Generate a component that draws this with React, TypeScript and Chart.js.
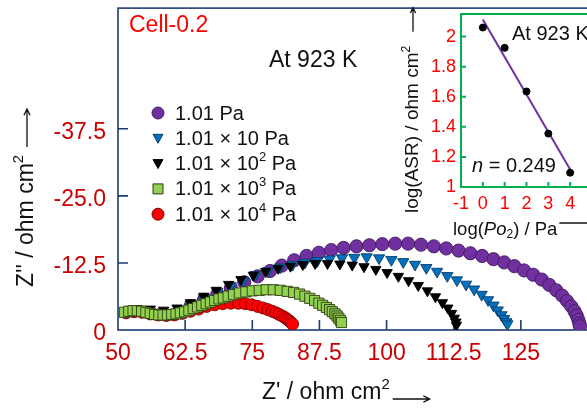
import React, { useEffect, useRef } from "react";
import { Chart, registerables } from "chart.js";
Chart.register(...registerables);

const FONT = '"Liberation Sans", Arial, Helvetica, sans-serif';
const NAVY = "#1f3b73";
const TICK_RED = "#cc0000";

// ---- main Nyquist data (Z' / ohm cm2, -Z'' / ohm cm2) ----
const seriesNames = ["1.01 Pa", "1.01 × 10 Pa", "1.01 × 10^2 Pa", "1.01 × 10^3 Pa", "1.01 × 10^4 Pa"];

const zrPurple = [63.5, 66, 68.5, 71, 73.5, 76, 78.3, 80.5, 82.8, 85.1, 87.4, 89.7, 92, 94.4, 96.8, 99.2, 101.6, 104, 106.4, 108.8, 111.1, 113.4, 115.6, 117.8, 119.9, 121.9, 123.8, 125.6, 127.3, 128.9, 130.3, 131.6, 132.7, 133.6, 134.4, 135.0, 135.4, 135.7, 135.9, 136.0];
const ziPurple = [4.4, 5.6, 6.7, 7.8, 8.9, 10.0, 11.0, 12.0, 13.0, 13.8, 14.4, 14.9, 15.3, 15.6, 15.8, 16.0, 16.1, 16.1, 15.9, 15.6, 15.2, 14.8, 14.3, 13.8, 13.2, 12.6, 11.9, 11.1, 10.3, 9.4, 8.4, 7.4, 6.4, 5.4, 4.4, 3.5, 2.7, 1.9, 1.2, 0.7];

const zrBlue = [63.5, 66, 68.5, 71, 73.3, 75.6, 77.9, 80.2, 82.5, 84.8, 87.1, 89.4, 91.7, 94, 96.3, 98.6, 100.9, 103.1, 105.3, 107.4, 109.4, 111.3, 113.1, 114.8, 116.3, 117.7, 118.9, 119.9, 120.7, 121.4, 121.9, 122.3, 122.5];
const ziBlue = [4.8, 6.0, 7.1, 8.2, 9.2, 10.3, 11.0, 11.7, 12.2, 12.6, 12.9, 13.2, 13.4, 13.5, 13.6, 13.4, 13.1, 12.7, 12.2, 11.6, 10.9, 10.1, 9.3, 8.5, 7.6, 6.6, 5.6, 4.6, 3.7, 2.8, 2.1, 1.5, 1.1];

const zrBlack = [51.5, 53.5, 56, 58.5, 61, 63.5, 66, 68.3, 70.6, 72.9, 75.2, 77.5, 79.8, 82.1, 84.4, 86.7, 89, 91.3, 93.6, 95.8, 98, 100.1, 102.2, 104.1, 105.9, 107.6, 109.1, 110.4, 111.4, 112.1, 112.6, 112.9, 113.0];
const ziBlack = [3.4, 4.0, 3.9, 3.7, 4.1, 5.1, 6.3, 7.4, 8.5, 9.4, 10.2, 10.9, 11.5, 11.9, 12.2, 12.4, 12.4, 12.3, 12.1, 11.8, 11.3, 10.7, 10.0, 9.2, 8.3, 7.3, 6.2, 5.1, 4.1, 3.1, 2.2, 1.5, 0.9];

const zrGreen = [51.2, 52.0, 52.8, 53.6, 54.4, 55.2, 56.0, 56.8, 57.6, 58.4, 59.2, 60.0, 60.8, 61.6, 62.4, 63.2, 64.0, 64.8, 65.6, 66.4, 67.2, 68.0, 68.8, 69.6, 70.5, 71.5, 72.6, 73.8, 75.0, 76.3, 77.6, 78.9, 80.2, 81.5, 82.7, 83.8, 84.8, 85.7, 86.6, 87.4, 88.1, 88.8, 89.4, 89.9, 90.4, 90.8, 91.1, 91.4, 91.6];
const ziGreen = [3.3, 3.5, 3.6, 3.6, 3.5, 3.3, 3.1, 2.9, 2.8, 2.8, 2.8, 2.9, 3.0, 3.2, 3.4, 3.7, 4.0, 4.3, 4.6, 4.9, 5.2, 5.5, 5.8, 6.0, 6.3, 6.6, 6.9, 7.1, 7.3, 7.4, 7.5, 7.5, 7.4, 7.2, 7.0, 6.7, 6.3, 5.9, 5.5, 5.0, 4.6, 4.2, 3.8, 3.4, 3.0, 2.6, 2.2, 1.8, 1.4];

const zrRed = [51.5, 53, 54.5, 56, 57.5, 59, 60.5, 62, 63.5, 65, 66.5, 68, 69.5, 71, 72.4, 73.7, 74.9, 76, 77, 77.9, 78.7, 79.4, 80, 80.6, 81.1, 81.5, 81.9, 82.2, 82.5];
const ziRed = [3.2, 3.4, 3.3, 3.0, 2.8, 2.7, 2.8, 3.1, 3.5, 3.9, 4.4, 4.7, 4.9, 5.0, 5.0, 4.9, 4.7, 4.4, 4.1, 3.8, 3.5, 3.2, 2.9, 2.6, 2.3, 2.0, 1.7, 1.4, 1.1];

const xTickValues = [50, 62.5, 75, 87.5, 100, 112.5, 125];
const xTickLabels = ["50", "62.5", "75", "87.5", "100", "112.5", "125"];
const yTickValues = [0, 12.5, 25, 37.5];
const yTickLabels = ["0", "-12.5", "-25.0", "-37.5"];

// ---- inset data ----
const logPo2 = [0, 1, 2, 3, 4];
const logAsr = [2.06, 1.925, 1.635, 1.355, 1.095];
const fitX = [0, 4];
const fitY = [2.113, 1.117];
const insetXTickValues = [-1, 0, 1, 2, 3, 4];
const insetXTickLabels = ["-1", "0", "1", "2", "3", "4"];
const insetYTickValues = [1, 1.2, 1.4, 1.6, 1.8, 2];
const insetYTickLabels = ["1", "1.2", "1.4", "1.6", "1.8", "2"];

type Seg = { t: string; italic?: boolean; pos?: "sup" | "sub" };

function drawRich(ctx: CanvasRenderingContext2D, segs: Seg[], x: number, y: number, size: number, color: string) {
  ctx.fillStyle = color;
  ctx.textAlign = "left";
  ctx.textBaseline = "middle";
  let cx = x;
  for (const s of segs) {
    const fs = s.pos ? size * 0.65 : size;
    ctx.font = `${s.italic ? "italic " : ""}${fs}px ${FONT}`;
    const dy = s.pos === "sup" ? -size * 0.36 : s.pos === "sub" ? size * 0.25 : 0;
    ctx.fillText(s.t, cx, y + dy);
    cx += ctx.measureText(s.t).width;
  }
  return cx;
}

function arrow(ctx: CanvasRenderingContext2D, x1: number, y1: number, x2: number, y2: number, color: string, head = 6) {
  ctx.strokeStyle = color;
  ctx.lineWidth = 1.3;
  ctx.beginPath();
  ctx.moveTo(x1, y1);
  ctx.lineTo(x2, y2);
  const a = Math.atan2(y2 - y1, x2 - x1);
  ctx.moveTo(x2 - head * Math.cos(a - 0.45), y2 - head * Math.sin(a - 0.45));
  ctx.lineTo(x2, y2);
  ctx.lineTo(x2 - head * Math.cos(a + 0.45), y2 - head * Math.sin(a + 0.45));
  ctx.stroke();
}

const styles = [
  { bg: "#7030A0", bd: "#3f1a5e", style: "circle", r: 6.6, rot: 0, order: 4 },
  { bg: "#0070C0", bd: "#0b3c66", style: "triangle", r: 6.5, rot: 180, order: 3 },
  { bg: "#000000", bd: "#000000", style: "triangle", r: 6.0, rot: 180, order: 2 },
  { bg: "#92D050", bd: "#2d3b12", style: "rect", r: 7.2, rot: 0, order: 0 },
  { bg: "#FF0000", bd: "#7a0000", style: "circle", r: 6.0, rot: 0, order: 1 },
];

function drawMarker(ctx: CanvasRenderingContext2D, i: number, x: number, y: number) {
  const s = styles[i];
  ctx.fillStyle = s.bg;
  ctx.strokeStyle = s.bd;
  ctx.lineWidth = 1;
  ctx.beginPath();
  if (s.style === "circle") {
    ctx.arc(x, y, 6, 0, Math.PI * 2);
  } else if (s.style === "triangle") {
    ctx.moveTo(x - 5, y - 4);
    ctx.lineTo(x + 5, y - 4);
    ctx.lineTo(x, y + 5);
    ctx.closePath();
  } else {
    ctx.rect(x - 5, y - 5, 10, 10);
  }
  ctx.fill();
  ctx.stroke();
}

function legendSegs(name: string): Seg[] {
  const m = name.match(/^(.*10)\^(\d)( Pa)$/);
  if (!m) return [{ t: name }];
  return [{ t: m[1] }, { t: m[2], pos: "sup" }, { t: m[3] }];
}

function zeroPad(s: any) {
  s.paddingTop = 0;
  s.paddingBottom = 0;
  s.paddingLeft = 0;
  s.paddingRight = 0;
}

const mainDecor = {
  id: "mainDecor",
  beforeDatasetsDraw(chart: any) {
    const { ctx, chartArea: a, scales } = chart;
    ctx.save();
    ctx.strokeStyle = NAVY;
    ctx.lineWidth = 1.6;
    ctx.strokeRect(a.left, a.top, a.right - a.left, a.bottom - a.top);
    ctx.beginPath();
    xTickValues.forEach((v) => {
      if (v === xTickValues[0]) return;
      const px = scales.x.getPixelForValue(v);
      ctx.moveTo(px, a.bottom);
      ctx.lineTo(px, a.bottom - 10);
    });
    yTickValues.forEach((v) => {
      if (v === yTickValues[0]) return;
      const py = scales.y.getPixelForValue(v);
      ctx.moveTo(a.left, py);
      ctx.lineTo(a.left + 10, py);
    });
    ctx.stroke();
    ctx.restore();
  },
  afterDraw(chart: any) {
    const { ctx } = chart;
    ctx.save();
    drawRich(ctx, [{ t: "Cell-0.2" }], 129, 26, 23, "#ff0000");
    drawRich(ctx, [{ t: "At 923 K" }], 269, 61, 23, "#111111");
    seriesNames.forEach((n, i) => {
      const y = 113 + i * 25.3;
      drawMarker(ctx, i, 158, y);
      drawRich(ctx, legendSegs(n), 175, y + 1, 20, "#111111");
    });
    const xe = drawRich(ctx, [{ t: "Z' / ohm cm" }, { t: "2", pos: "sup" }], 262, 393, 23, "#111111");
    arrow(ctx, xe + 3, 399, xe + 40, 399, "#111111", 7);
    ctx.translate(27, 287);
    ctx.rotate(-Math.PI / 2);
    const ye = drawRich(ctx, [{ t: "Z'' / ohm cm" }, { t: "2", pos: "sup" }], 0, 0, 23, "#111111");
    arrow(ctx, ye + 8, 0, ye + 46, 0, "#111111", 7);
    ctx.restore();
  },
};

const insetDecor = {
  id: "insetDecor",
  beforeDatasetsDraw(chart: any) {
    const { ctx, chartArea: a, scales } = chart;
    ctx.save();
    ctx.strokeStyle = "#00b050";
    ctx.lineWidth = 2;
    ctx.strokeRect(a.left, a.top, a.right - a.left, a.bottom - a.top);
    ctx.beginPath();
    insetXTickValues.forEach((v) => {
      if (v === insetXTickValues[0]) return;
      const px = scales.x.getPixelForValue(v);
      ctx.moveTo(px, a.bottom);
      ctx.lineTo(px, a.bottom - 5);
    });
    insetYTickValues.forEach((v) => {
      if (v === insetYTickValues[0]) return;
      const py = scales.y.getPixelForValue(v);
      ctx.moveTo(a.left, py);
      ctx.lineTo(a.left + 5, py);
    });
    ctx.stroke();
    ctx.restore();
  },
  afterDraw(chart: any) {
    const { ctx } = chart;
    ctx.save();
    drawRich(ctx, [{ t: "At 923 K" }], 117, 34, 20, "#111111");
    drawRich(ctx, [{ t: "n", italic: true }, { t: " = 0.249" }], 77, 166, 20, "#111111");
    const xe = drawRich(ctx, [{ t: "log(" }, { t: "Po", italic: true }, { t: "2", pos: "sub" }, { t: ") / Pa" }], 58, 230, 18.5, "#111111");
    ctx.strokeStyle = "#111111";
    ctx.lineWidth = 1.3;
    ctx.beginPath();
    ctx.moveTo(xe + 2, 223);
    ctx.lineTo(xe + 40, 223);
    ctx.stroke();
    ctx.translate(18, 213);
    ctx.rotate(-Math.PI / 2);
    const ye = drawRich(ctx, [{ t: "log(ASR) / ohm cm" }, { t: "2", pos: "sup" }], 0, 0, 19, "#111111");
    arrow(ctx, ye + 14, 0, ye + 38, 0, "#111111", 6);
    ctx.restore();
  },
};

export default function App() {
  const mainRef = useRef<HTMLCanvasElement | null>(null);
  const insetRef = useRef<HTMLCanvasElement | null>(null);

  useEffect(() => {
    const xs = [zrPurple, zrBlue, zrBlack, zrGreen, zrRed];
    const ys = [ziPurple, ziBlue, ziBlack, ziGreen, ziRed];
    const datasets = seriesNames.map((name, i) => ({
      label: name,
      data: xs[i].map((x, j) => ({ x, y: ys[i][j] })),
      showLine: false,
      pointStyle: styles[i].style as any,
      pointRadius: styles[i].r,
      pointRotation: styles[i].rot,
      pointBackgroundColor: styles[i].bg,
      pointBorderColor: styles[i].bd,
      pointBorderWidth: 0.9,
      order: styles[i].order,
    }));

    const main = new Chart(mainRef.current as HTMLCanvasElement, {
      type: "scatter",
      data: { datasets },
      options: {
        animation: false,
        responsive: false,
        devicePixelRatio: 1,
        layout: { padding: { top: 7, right: 12, left: 0, bottom: 0 } },
        plugins: { legend: { display: false }, tooltip: { enabled: false } },
        scales: {
          x: {
            type: "linear",
            min: 50,
            max: 137.5,
            grid: { display: false, drawTicks: false },
            border: { display: false },
            afterBuildTicks: (s: any) => {
              s.ticks = xTickValues.map((v) => ({ value: v }));
            },
            afterFit: (s: any) => {
              s.height = 80;
              zeroPad(s);
            },
            ticks: {
              color: TICK_RED,
              font: { family: FONT, size: 23 },
              padding: 10,
              maxRotation: 0,
              autoSkip: false,
              callback: (_v: any, i: number) => xTickLabels[i],
            },
          },
          y: {
            type: "linear",
            min: 0,
            max: 60,
            grid: { display: false, drawTicks: false },
            border: { display: false },
            afterBuildTicks: (s: any) => {
              s.ticks = yTickValues.map((v) => ({ value: v }));
            },
            afterFit: (s: any) => {
              s.width = 118;
              zeroPad(s);
            },
            ticks: {
              color: TICK_RED,
              font: { family: FONT, size: 23 },
              padding: 12,
              labelOffset: 4,
              autoSkip: false,
              callback: (_v: any, i: number) => yTickLabels[i],
            },
          },
        },
      },
      plugins: [mainDecor],
    } as any);

    const inset = new Chart(insetRef.current as HTMLCanvasElement, {
      type: "scatter",
      data: {
        datasets: [
          {
            label: "log(ASR)",
            data: logPo2.map((x, j) => ({ x, y: logAsr[j] })),
            showLine: false,
            pointRadius: 3.5,
            pointBackgroundColor: "#000000",
            pointBorderColor: "#000000",
            order: 0,
          },
          {
            label: "fit",
            data: fitX.map((x, j) => ({ x, y: fitY[j] })),
            showLine: true,
            borderColor: "#7030A0",
            borderWidth: 2,
            pointRadius: 0,
            order: 1,
          },
        ],
      },
      options: {
        animation: false,
        responsive: false,
        devicePixelRatio: 1,
        layout: { padding: { top: 14, right: 13, left: 0, bottom: 0 } },
        plugins: { legend: { display: false }, tooltip: { enabled: false } },
        scales: {
          x: {
            type: "linear",
            min: -1,
            max: 5,
            grid: { display: false, drawTicks: false },
            border: { display: false },
            afterBuildTicks: (s: any) => {
              s.ticks = insetXTickValues.map((v) => ({ value: v }));
            },
            afterFit: (s: any) => {
              s.height = 63;
              zeroPad(s);
            },
            ticks: {
              color: "#ff0000",
              font: { family: FONT, size: 18 },
              padding: 6,
              maxRotation: 0,
              autoSkip: false,
              callback: (_v: any, i: number) => insetXTickLabels[i],
            },
          },
          y: {
            type: "linear",
            min: 1,
            max: 2.15,
            grid: { display: false, drawTicks: false },
            border: { display: false },
            afterBuildTicks: (s: any) => {
              s.ticks = insetYTickValues.map((v) => ({ value: v }));
            },
            afterFit: (s: any) => {
              s.width = 66;
              zeroPad(s);
            },
            ticks: {
              color: "#ff0000",
              font: { family: FONT, size: 18 },
              padding: 5,
              autoSkip: false,
              callback: (_v: any, i: number) => insetYTickLabels[i],
            },
          },
        },
      },
      plugins: [insetDecor],
    } as any);

    return () => {
      main.destroy();
      inset.destroy();
    };
  }, []);

  return (
    <div style={{ position: "fixed", left: 0, top: 0, width: 587, height: 410, overflow: "hidden", background: "#ffffff" }}>
      <canvas ref={mainRef} width={600} height={410} style={{ position: "absolute", left: 0, top: 0, display: "block" }} />
      <canvas ref={insetRef} width={210} height={250} style={{ position: "absolute", left: 395, top: 0, display: "block" }} />
    </div>
  );
}
